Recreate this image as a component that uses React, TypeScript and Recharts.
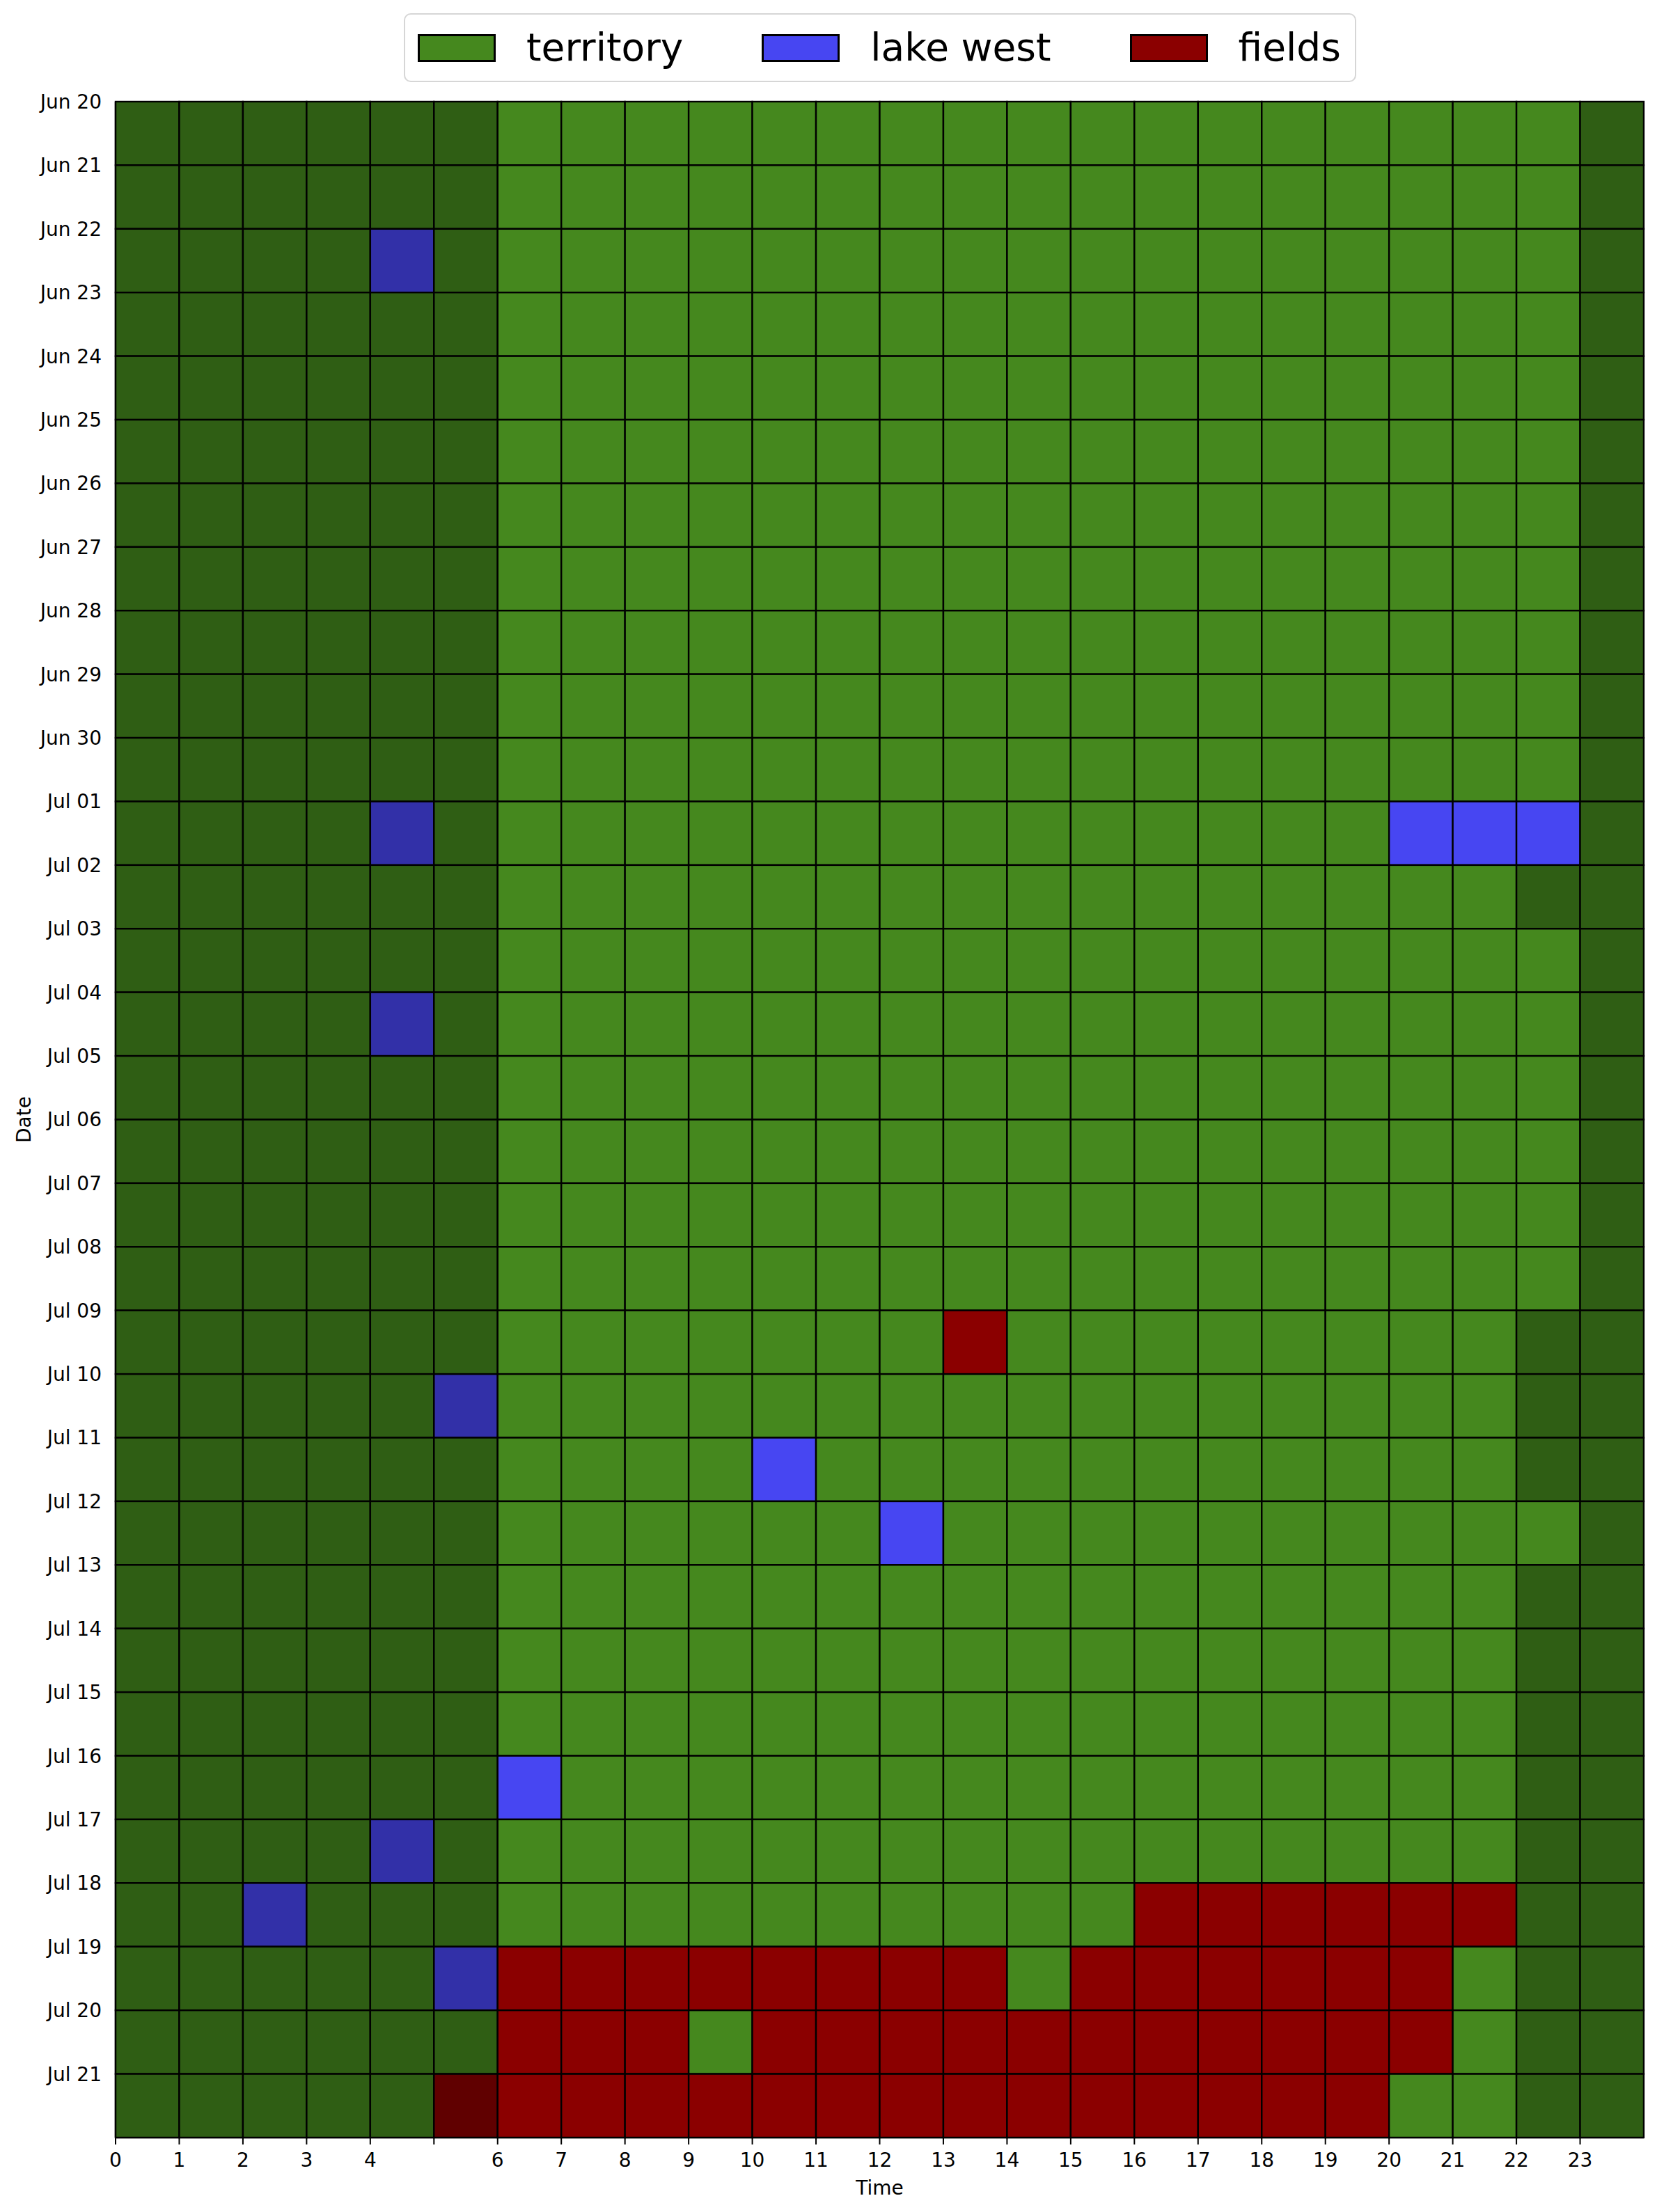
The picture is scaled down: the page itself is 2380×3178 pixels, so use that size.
import React from "react"
import { ScatterChart, Scatter, XAxis, YAxis, Label } from "recharts"

// one string per date row, one letter per hour (0..23)
// N night territory, T territory, l night lake west, L lake west, f night fields, F fields
const DATES = [
    "Jun 20", "Jun 21", "Jun 22", "Jun 23", "Jun 24", "Jun 25", "Jun 26", "Jun 27",
    "Jun 28", "Jun 29", "Jun 30", "Jul 01", "Jul 02", "Jul 03", "Jul 04", "Jul 05",
    "Jul 06", "Jul 07", "Jul 08", "Jul 09", "Jul 10", "Jul 11", "Jul 12", "Jul 13",
    "Jul 14", "Jul 15", "Jul 16", "Jul 17", "Jul 18", "Jul 19", "Jul 20", "Jul 21",
]

const GRID = [
    "NNNNNNTTTTTTTTTTTTTTTTTN", // Jun 20
    "NNNNNNTTTTTTTTTTTTTTTTTN", // Jun 21
    "NNNNlNTTTTTTTTTTTTTTTTTN", // Jun 22
    "NNNNNNTTTTTTTTTTTTTTTTTN", // Jun 23
    "NNNNNNTTTTTTTTTTTTTTTTTN", // Jun 24
    "NNNNNNTTTTTTTTTTTTTTTTTN", // Jun 25
    "NNNNNNTTTTTTTTTTTTTTTTTN", // Jun 26
    "NNNNNNTTTTTTTTTTTTTTTTTN", // Jun 27
    "NNNNNNTTTTTTTTTTTTTTTTTN", // Jun 28
    "NNNNNNTTTTTTTTTTTTTTTTTN", // Jun 29
    "NNNNNNTTTTTTTTTTTTTTTTTN", // Jun 30
    "NNNNlNTTTTTTTTTTTTTTLLLN", // Jul 01
    "NNNNNNTTTTTTTTTTTTTTTTNN", // Jul 02
    "NNNNNNTTTTTTTTTTTTTTTTTN", // Jul 03
    "NNNNlNTTTTTTTTTTTTTTTTTN", // Jul 04
    "NNNNNNTTTTTTTTTTTTTTTTTN", // Jul 05
    "NNNNNNTTTTTTTTTTTTTTTTTN", // Jul 06
    "NNNNNNTTTTTTTTTTTTTTTTTN", // Jul 07
    "NNNNNNTTTTTTTTTTTTTTTTTN", // Jul 08
    "NNNNNNTTTTTTTFTTTTTTTTNN", // Jul 09
    "NNNNNlTTTTTTTTTTTTTTTTNN", // Jul 10
    "NNNNNNTTTTLTTTTTTTTTTTNN", // Jul 11
    "NNNNNNTTTTTTLTTTTTTTTTTN", // Jul 12
    "NNNNNNTTTTTTTTTTTTTTTTNN", // Jul 13
    "NNNNNNTTTTTTTTTTTTTTTTNN", // Jul 14
    "NNNNNNTTTTTTTTTTTTTTTTNN", // Jul 15
    "NNNNNNLTTTTTTTTTTTTTTTNN", // Jul 16
    "NNNNlNTTTTTTTTTTTTTTTTNN", // Jul 17
    "NNlNNNTTTTTTTTTTFFFFFFNN", // Jul 18
    "NNNNNlFFFFFFFFTFFFFFFTNN", // Jul 19
    "NNNNNNFFFTFFFFFFFFFFFTNN", // Jul 20
    "NNNNNfFFFFFFFFFFFFFFTTNN", // Jul 21
]

const HOURS = [0, 1, 2, 3, 4, 5, 6, 7, 8, 9, 10, 11, 12, 13, 14, 15, 16, 17, 18, 19, 20, 21, 22, 23]
const HOUR_LABELS = ["0", "1", "2", "3", "4", "", "6", "7", "8", "9", "10", "11", "12", "13", "14", "15", "16", "17", "18", "19", "20", "21", "22", "23"]
const ROW_TICKS = DATES.map((_, i) => i)

const CODE_COLORS: Record<string, string> = {
    N: "#2f5e14",
    T: "#45881e",
    l: "#3230a8",
    L: "#4746f2",
    f: "#600000",
    F: "#8b0000",
}

const LEGEND_ITEMS = [
    { name: "territory", color: "#45881e" },
    { name: "lake west", color: "#4746f2" },
    { name: "fields", color: "#8b0000" },
]

const FONT = "'DejaVu Sans', sans-serif"
const W = 2364
const H = 3162
const MARGIN = { top: 138, right: 11, bottom: 9, left: 38 }
const Y_AXIS_W = 120
const X_AXIS_H = 90
const PLOT_W = W - MARGIN.left - Y_AXIS_W - MARGIN.right
const PLOT_H = H - MARGIN.top - MARGIN.bottom - X_AXIS_H
const CELL_W = PLOT_W / HOURS.length
const CELL_H = PLOT_H / DATES.length

const cells = GRID.flatMap((row, r) =>
    row.split("").map((code, h) => ({ x: h + 0.5, y: r + 0.5, code }))
)

const CellShape = (props: any) => {
    const { cx, cy, payload } = props
    return (
        <rect
            x={cx - CELL_W / 2}
            y={cy - CELL_H / 2}
            width={CELL_W}
            height={CELL_H}
            fill={CODE_COLORS[payload.code]}
            stroke="#000"
            strokeWidth={2.4}
        />
    )
}

const DateLabel = (props: any) => {
    const { viewBox } = props
    const x = viewBox.x - 12
    const y = viewBox.y + viewBox.height / 2
    return (
        <text
            x={x}
            y={y}
            transform={`rotate(-90 ${x} ${y})`}
            textAnchor="middle"
            dominantBaseline="central"
            fontSize={28}
            fontFamily={FONT}
            fill="#000"
        >
            Date
        </text>
    )
}

function ChartLegend() {
    return (
        <div
            style={{
                position: "absolute",
                left: 572,
                top: 11,
                width: 1368,
                height: 99,
                boxSizing: "border-box",
                border: "2px solid #d6d6d6",
                borderRadius: 10,
                background: "#fff",
                display: "flex",
                alignItems: "center",
                paddingLeft: 18,
                fontFamily: FONT,
                fontSize: 55,
                color: "#000",
            }}
        >
            {LEGEND_ITEMS.map((item, i) => (
                <div key={item.name} style={{ display: "flex", alignItems: "center", marginLeft: i === 0 ? 0 : 113 }}>
                    <div
                        style={{
                            width: 112,
                            height: 40,
                            boxSizing: "border-box",
                            background: item.color,
                            border: "3px solid #000",
                            marginRight: 44,
                        }}
                    />
                    <span style={{ lineHeight: 1, whiteSpace: "nowrap" }}>{item.name}</span>
                </div>
            ))}
        </div>
    )
}

export default function App() {
    return (
        <div style={{ position: "relative", width: W, height: H }}>
            <ScatterChart width={W} height={H} margin={MARGIN}>
                <XAxis
                    type="number"
                    dataKey="x"
                    domain={[0, 24]}
                    ticks={HOURS}
                    interval={0}
                    height={X_AXIS_H}
                    tickFormatter={(v: number) => HOUR_LABELS[v] ?? ""}
                    tick={{ fill: "#000", fontSize: 28, fontFamily: FONT }}
                    tickSize={10}
                    tickMargin={12}
                    tickLine={{ stroke: "#000", strokeWidth: 2 }}
                    axisLine={{ stroke: "#000", strokeWidth: 2.4 }}
                >
                    <Label value="Time" position="insideBottom" offset={8} fill="#000" fontSize={28} fontFamily={FONT} />
                </XAxis>
                <YAxis
                    type="number"
                    dataKey="y"
                    domain={[0, 32]}
                    reversed
                    ticks={ROW_TICKS}
                    interval={0}
                    width={Y_AXIS_W}
                    tickFormatter={(v: number) => DATES[v] ?? ""}
                    tick={{ fill: "#000", fontSize: 28, fontFamily: FONT }}
                    tickSize={10}
                    tickMargin={10}
                    tickLine={false}
                    axisLine={{ stroke: "#000", strokeWidth: 2.4 }}
                >
                    <Label content={DateLabel} />
                </YAxis>
                <Scatter data={cells} shape={CellShape} isAnimationActive={false} />
            </ScatterChart>
            <ChartLegend />
        </div>
    )
}
